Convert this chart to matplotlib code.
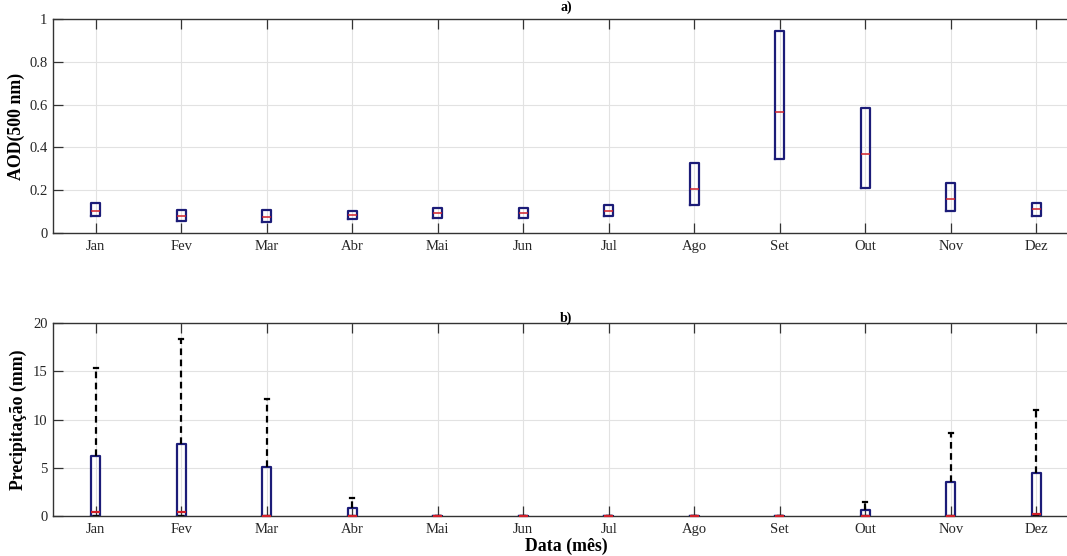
import matplotlib
matplotlib.use("Agg")
import matplotlib.pyplot as plt

months = ["Jan", "Fev", "Mar", "Abr", "Mai", "Jun", "Jul", "Ago", "Set", "Out", "Nov", "Dez"]

# AOD (500 nm) box statistics
aod_q1 = [0.079, 0.058, 0.053, 0.064, 0.072, 0.069, 0.078, 0.131, 0.344, 0.209, 0.103, 0.081]
aod_med = [0.104, 0.081, 0.076, 0.084, 0.093, 0.092, 0.103, 0.204, 0.564, 0.368, 0.157, 0.111]
aod_q3 = [0.140, 0.107, 0.107, 0.104, 0.115, 0.118, 0.131, 0.326, 0.944, 0.586, 0.235, 0.142]

# Precipitation (mm) box statistics
pr_q1 = [0, 0, 0, 0, 0, 0, 0, 0, 0, 0, 0, 0]
pr_med = [0.4, 0.4, 0, 0, 0, 0, 0, 0, 0, 0, 0, 0.2]
pr_q3 = [6.23, 7.48, 5.05, 0.8, 0, 0, 0, 0, 0, 0.62, 3.5, 4.43]
pr_whi = [15.4, 18.4, 12.15, 1.84, 0, 0, 0, 0, 0, 1.42, 8.59, 11.04]

aod_ticks = [0, 0.2, 0.4, 0.6, 0.8, 1]
aod_ticklabels = ["0", "0.2", "0.4", "0.6", "0.8", "1"]
pr_ticks = [0, 5, 10, 15, 20]

plt.rcParams["font.family"] = ["Liberation Serif", "DejaVu Serif"]

W, H = 1067, 556
fig = plt.figure(figsize=(W / 100, H / 100), dpi=100)

def pos(l, r, t, b):
    return [l / W, 1 - b / H, (r - l) / W, (b - t) / H]

ax1 = fig.add_axes(pos(53, 1079, 19, 233))
ax2 = fig.add_axes(pos(53, 1079, 323.3, 516))

navy = "#1c1c78"
red = "#d0202a"
xs = list(range(1, 13))

def style(ax):
    ax.set_xlim(0.5, 12.5)
    ax.set_xticks(xs)
    ax.set_xticklabels(months)
    ax.grid(True, color="#e2e2e2", linewidth=0.8)
    ax.set_axisbelow(True)
    for s in ax.spines.values():
        s.set_color("#333333")
        s.set_linewidth(1.0)
    ax.tick_params(axis="x", direction="in", length=7.5, width=0.9, top=True,
                   colors="#333333", labelsize=10.5, labelcolor="#262626", pad=5)
    ax.tick_params(axis="y", direction="in", length=7.5, width=0.9,
                   colors="#333333", labelsize=10.5, labelcolor="#262626", pad=4)

# Panel a
stats1 = []
for i in range(12):
    stats1.append(dict(med=aod_med[i], q1=aod_q1[i], q3=aod_q3[i],
                       whislo=aod_q1[i], whishi=aod_q3[i], fliers=[]))
ax1.bxp(stats1, positions=xs, widths=0.11, showcaps=False, showfliers=False,
        boxprops=dict(color=navy, linewidth=1.6),
        medianprops=dict(color=red, linewidth=1.1, zorder=5),
        whiskerprops=dict(color=navy, linewidth=0))
style(ax1)
ax1.set_ylim(0, 1)
ax1.set_yticks(aod_ticks)
ax1.set_yticklabels(aod_ticklabels)
ax1.set_ylabel("AOD(500 nm)", fontsize=12.8, fontweight="bold", labelpad=3)
ax1.set_title("a)", fontsize=10, fontweight="bold", pad=6)

# Panel b
stats2 = []
for i in range(12):
    stats2.append(dict(med=pr_med[i], q1=pr_q1[i], q3=pr_q3[i],
                       whislo=pr_q1[i], whishi=pr_whi[i], fliers=[]))
ax2.bxp(stats2, positions=xs, widths=0.11, showfliers=False, capwidths=0.05,
        boxprops=dict(color=navy, linewidth=1.6),
        medianprops=dict(color=red, linewidth=1.6, zorder=5, clip_on=False),
        whiskerprops=dict(color="black", linewidth=1.6, linestyle=(0, (3, 2))),
        capprops=dict(color="black", linewidth=1.6))
style(ax2)
ax2.set_ylim(0, 20)
ax2.set_yticks(pr_ticks)
ax2.set_ylabel("Precipitação (mm)", fontsize=12.8, fontweight="bold", labelpad=4)
ax2.set_title("b)", fontsize=10, fontweight="bold", pad=1)
ax2.set_xlabel("Data (mês)", fontsize=12.8, fontweight="bold", labelpad=1)

fig.savefig("out.png", dpi=100)
